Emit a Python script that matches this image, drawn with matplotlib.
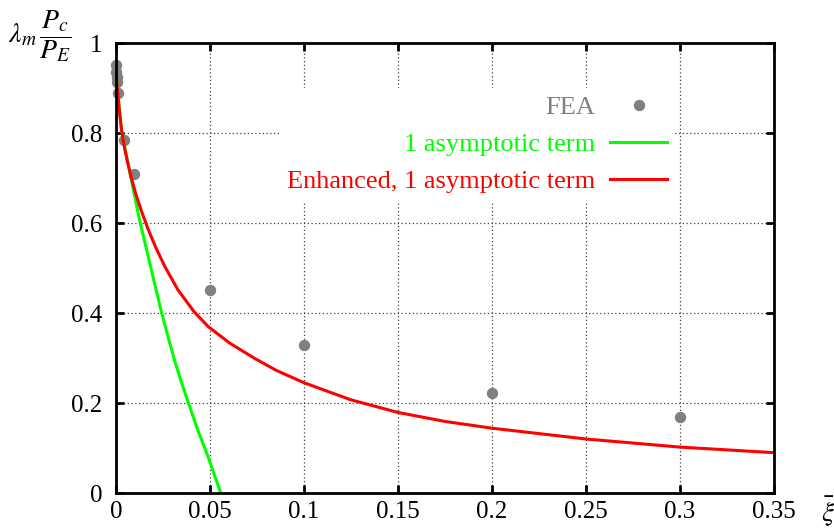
import matplotlib
matplotlib.use("Agg")
import matplotlib.pyplot as plt
from matplotlib.ticker import FuncFormatter

plt.rcParams['font.family'] = ['Liberation Serif', 'DejaVu Serif']
plt.rcParams['mathtext.fontset'] = 'stix'

# FEA results
fea_xi = [0.0001, 0.0002, 0.0003, 0.0005, 0.0012, 0.0045, 0.0097, 0.05, 0.1, 0.2, 0.3]
fea_val = [0.951, 0.936, 0.925, 0.914, 0.888, 0.784, 0.708, 0.451, 0.329, 0.222, 0.169]

# 1 asymptotic term
asym_xi = [0.0, 0.001, 0.002, 0.003, 0.0045, 0.0065, 0.009, 0.0126, 0.0165, 0.0205,
           0.0243, 0.028, 0.0312, 0.0345, 0.0381, 0.0435, 0.0491, 0.0557]
asym_val = [0.935, 0.886, 0.842, 0.806, 0.772, 0.73, 0.679, 0.605, 0.537, 0.466,
            0.40, 0.342, 0.294, 0.25, 0.205, 0.14, 0.079, 0.0]

# Enhanced, 1 asymptotic term
enh_xi = [0.0, 0.001, 0.002, 0.003, 0.0045, 0.006, 0.008, 0.0105, 0.0135, 0.017,
          0.021, 0.026, 0.033, 0.0415, 0.049, 0.0605, 0.0738, 0.085, 0.1, 0.125,
          0.15, 0.175, 0.2, 0.25, 0.3, 0.35]
enh_val = [0.935, 0.885, 0.842, 0.806, 0.768, 0.738, 0.703, 0.665, 0.627, 0.587,
           0.547, 0.503, 0.451, 0.403, 0.37, 0.333, 0.299, 0.273, 0.245, 0.207,
           0.179, 0.159, 0.144, 0.12, 0.102, 0.0896]

x_ticks = [0, 0.05, 0.1, 0.15, 0.2, 0.25, 0.3, 0.35]
y_ticks = [0, 0.2, 0.4, 0.6, 0.8, 1.0]

fig = plt.figure(figsize=(8.34, 5.29), dpi=100)
ax = fig.add_axes([116/834, 36/529, 658/834, 450/529])

ax.plot(fea_xi, fea_val, linestyle='none', marker='o', markersize=7.2,
        color='#808080', label='FEA', clip_on=False, zorder=2)
ax.plot(asym_xi, asym_val, color='#00ff00', lw=2.2, label='1 asymptotic term', zorder=2)
ax.plot(enh_xi, enh_val, color='#ff0000', lw=2.2, label='Enhanced, 1 asymptotic term', zorder=2)

ax.set_xlim(0, 0.35)
ax.set_ylim(0, 1)
ax.set_xticks(x_ticks)
ax.set_yticks(y_ticks)
fmt = FuncFormatter(lambda v, p: '%g' % round(v, 4))
ax.xaxis.set_major_formatter(fmt)
ax.yaxis.set_major_formatter(fmt)
ax.tick_params(direction='in', length=6, width=2, top=True, right=True,
               labelsize=18, color='black')
ax.tick_params(axis='x', pad=6)
ax.tick_params(axis='y', pad=10)
for s in ax.spines.values():
    s.set_linewidth(2)
    s.set_zorder(3)
ax.grid(True, linestyle=(0, (1, 2)), color='#404040', linewidth=0.9)
ax.set_axisbelow(True)

leg = ax.legend(loc='upper right', bbox_to_anchor=(0.8495, 0.901), borderaxespad=0,
                markerfirst=False, frameon=True, fancybox=False, framealpha=1,
                facecolor='white', edgecolor='none', fontsize=19,
                handlelength=2.16, handletextpad=0.57, labelspacing=0.52,
                borderpad=0.3, labelcolor='linecolor')
leg.set_zorder(5)

fig.text(828/834, 1 - 511/529, r'$\bar{\xi}$', ha='center', va='center', fontsize=20)
fig.text(8/834, 1 - 36/529, r'$\lambda_m\,\dfrac{P_c}{P_E}$', ha='left', va='center', fontsize=20)

fig.savefig('out.png', dpi=100)
